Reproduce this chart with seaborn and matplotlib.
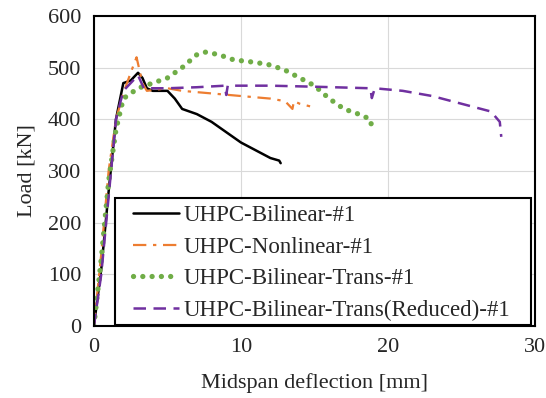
import numpy as np
import pandas as pd
import matplotlib
matplotlib.use("Agg")
import matplotlib.pyplot as plt
from matplotlib.patches import Rectangle
import seaborn as sns

# Load-deflection curves (deflection in mm, load in kN)
bilinear_x = [0, 0.5, 1.0, 1.5, 2.0, 2.5, 3.0, 3.3, 3.6, 4.0, 5.0, 5.5, 6.0, 7.0, 8.0, 9.0, 10.0, 11.0, 12.0, 12.6, 12.7]
bilinear_y = [0, 110, 260, 400, 470, 475, 490, 480, 460, 455, 455, 440, 420, 410, 395, 375, 355, 340, 325, 320, 315]

nonlinear_x = [0, 0.5, 1.0, 1.5, 2.0, 2.5, 2.9, 3.3, 3.6, 5.0, 6.0, 8.0, 10.0, 12.0, 13.0, 13.5, 13.6, 14.0, 14.7]
nonlinear_y = [0, 140, 300, 400, 450, 490, 520, 470, 455, 460, 455, 450, 445, 440, 435, 420, 435, 430, 425]

trans_x = [0, 0.5, 1.0, 1.5, 2.0, 3.0, 4.0, 5.0, 6.0, 7.0, 7.6, 8.5, 9.5, 11.0, 12.0, 13.0, 14.0, 15.0, 16.0, 17.0, 18.0, 18.8, 18.9]
trans_y = [0, 130, 280, 380, 440, 460, 470, 480, 500, 525, 530, 525, 515, 510, 505, 495, 480, 465, 440, 420, 410, 400, 383]

reduced_x = [0, 0.5, 1.0, 1.5, 2.0, 2.5, 3.0, 3.4, 5.0, 7.0, 8.9, 9.0, 9.1, 12.0, 15.0, 18.8, 18.9, 19.1, 21.0, 23.0, 25.0, 27.0, 27.6, 27.7]
reduced_y = [0, 100, 250, 400, 455, 470, 485, 460, 460, 462, 465, 447, 465, 465, 463, 460, 441, 460, 455, 445, 430, 415, 395, 366]

labels = ["UHPC-Bilinear-#1", "UHPC-Nonlinear-#1",
          "UHPC-Bilinear-Trans-#1", "UHPC-Bilinear-Trans(Reduced)-#1"]
x_ticks = [0, 10, 20, 30]
y_ticks = [0, 100, 200, 300, 400, 500, 600]

sns.set_style("whitegrid", {"grid.color": "#d9d9d9", "axes.edgecolor": "black"})
plt.rcParams["font.family"] = ["Liberation Serif", "DejaVu Serif"]

fig, ax = plt.subplots(figsize=(5.46, 3.98), dpi=100)
fig.subplots_adjust(left=0.172, right=0.98, top=0.96, bottom=0.181)

series = [
    (bilinear_x, bilinear_y, dict(color="black", linestyle="-", linewidth=1.8)),
    (nonlinear_x, nonlinear_y, dict(color="#ed7d31", linestyle=(0, (6, 3, 1.5, 3)), linewidth=1.6)),
    (trans_x, trans_y, dict(color="#70ad47", linestyle=(0, (0.01, 1.75)), linewidth=3.8,
                            dash_capstyle="round")),
    (reduced_x, reduced_y, dict(color="#7030a0", linestyle=(0, (5, 3)), linewidth=1.8)),
]

for (xs, ys, style), lab in zip(series, labels):
    df = pd.DataFrame({"x": xs, "y": ys})
    sns.lineplot(data=df, x="x", y="y", ax=ax, label=lab, sort=False,
                 estimator=None, **style)

ax.set_xlim(0, 30)
ax.set_ylim(0, 600)
ax.set_xticks(x_ticks)
ax.set_yticks(y_ticks)
ax.tick_params(axis="both", labelsize=16, length=0)
ax.tick_params(axis="y", pad=9)
ax.tick_params(axis="x", pad=9)
ax.set_xlabel("Midspan deflection [mm]", fontsize=16, labelpad=11)
ax.set_ylabel("Load [kN]", fontsize=16, labelpad=8)
for sp in ax.spines.values():
    sp.set_linewidth(1.5)
    sp.set_color("black")

# Legend box: white panel with black border, entries placed inside it
frame = Rectangle((0.048, 0.003), 0.943, 0.41, transform=ax.transAxes,
                  facecolor="white", edgecolor="black", linewidth=1.5, zorder=4.9)
ax.add_patch(frame)
leg = ax.legend(loc="lower left", bbox_to_anchor=(0.089, 0.015), fontsize=16.5,
                frameon=False, borderpad=0.0, labelspacing=0.47, handlelength=2.0,
                handletextpad=0.2, borderaxespad=0.0)
leg.set_zorder(5)

fig.savefig("out.png", dpi=100)
